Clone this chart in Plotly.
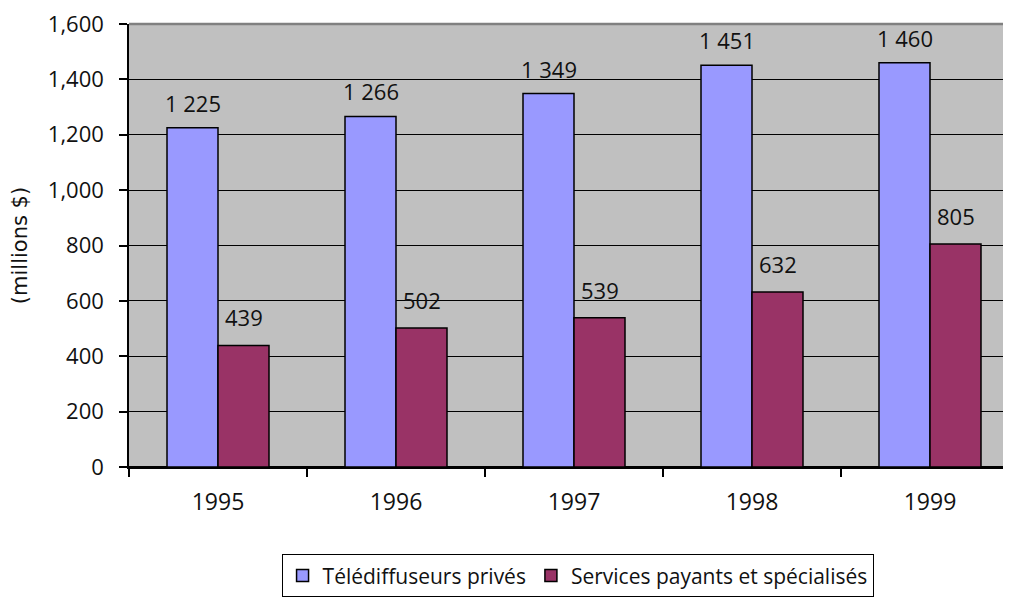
import plotly.graph_objects as go

years = ["1995", "1996", "1997", "1998", "1999"]
prives = [1225, 1266, 1349, 1451, 1460]
payants = [439, 502, 539, 632, 805]
series_names = ["Télédiffuseurs privés", "Services payants et spécialisés"]
y_ticks = [0, 200, 400, 600, 800, 1000, 1200, 1400, 1600]

FONT = "Open Sans, Liberation Sans, Arial, sans-serif"
TITLE_FONT = "DejaVu Sans, Verdana, sans-serif"
BLUE = "#9999ff"
MAROON = "#993366"

fig = go.Figure()
fig.add_trace(go.Bar(x=years, y=prives, name=series_names[0],
                     marker=dict(color=BLUE, line=dict(color="black", width=1.5))))
fig.add_trace(go.Bar(x=years, y=payants, name=series_names[1],
                     marker=dict(color=MAROON, line=dict(color="black", width=1.5))))

def fmt(v):
    return f"{v:,}".replace(",", " ")

annotations = []
for i, v in enumerate(prives):
    annotations.append(dict(x=i, y=v, xref="x", yref="y", text=fmt(v), showarrow=False,
                            xshift=-25.5, yshift=25, yanchor="middle",
                            font=dict(family=FONT, size=22, color="#111")))
for i, v in enumerate(payants):
    annotations.append(dict(x=i, y=v, xref="x", yref="y", text=fmt(v), showarrow=False,
                            xshift=25.5, yshift=28, yanchor="middle",
                            font=dict(family=FONT, size=22, color="#111")))

fig.update_layout(
    width=1011, height=597,
    margin=dict(l=121, r=0, t=16, b=138, autoexpand=False),
    paper_bgcolor="white",
    plot_bgcolor="#c0c0c0",
    barmode="group",
    bargap=0.427,
    bargroupgap=0,
    font=dict(family=FONT, size=22, color="#111"),
    annotations=annotations,
    showlegend=True,
    legend=dict(orientation="h", x=0.504, xanchor="center", y=-0.197, yanchor="top",
                bgcolor="white", bordercolor="black", borderwidth=1,
                font=dict(family=FONT, size=21, color="#111"),
                itemwidth=30, tracegroupgap=0),
    shapes=[dict(type="line", xref="paper", yref="paper", x0=0, x1=1, y0=1, y1=1,
                 line=dict(color="#808080", width=2.5))],
)
fig.update_xaxes(
    type="category",
    range=[-0.5, 4.5],
    showline=True, linecolor="black", linewidth=1.5,
    ticks="outside", tickson="boundaries", ticklen=8, tickcolor="black", tickwidth=1.5,
    ticklabelstandoff=14,
    tickfont=dict(family=FONT, size=23, color="#111"),
    showgrid=False,
)
fig.update_yaxes(
    range=[0, 1600],
    tickvals=y_ticks, tickformat=",",
    ticklabeloverflow="allow",
    showline=True, linecolor="black", linewidth=1.5,
    ticks="outside", ticklen=8, tickcolor="black", tickwidth=1.5,
    ticklabelstandoff=11,
    tickfont=dict(family=FONT, size=22, color="#111"),
    showgrid=True, gridcolor="black", gridwidth=1,
    zeroline=True, zerolinecolor="black", zerolinewidth=1.5,
    title=dict(text="(millions $)", standoff=17,
               font=dict(family=TITLE_FONT, size=21, color="#111")),
)

fig.write_html("out.html")
